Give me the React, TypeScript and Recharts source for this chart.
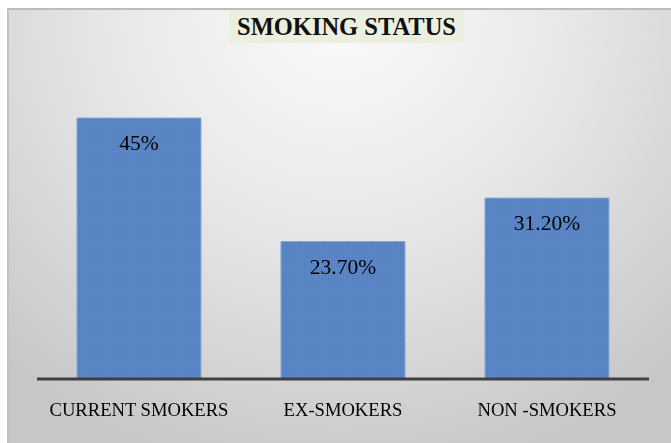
import { Bar, BarChart, XAxis, YAxis, LabelList } from "recharts"

const categories = ["CURRENT SMOKERS", "EX-SMOKERS", "NON -SMOKERS"]
const percents = [45, 23.7, 31.2]
const valueLabels = ["45%", "23.70%", "31.20%"]

const data = categories.map((name, i) => ({ name, value: percents[i], label: valueLabels[i] }))

const serif = "'Liberation Serif', 'Times New Roman', serif"

export default function App() {
  return (
    <div
      style={{
        position: "fixed",
        left: 7,
        top: 8,
        width: 664,
        height: 435,
        boxSizing: "border-box",
        borderTop: "2px solid #bcbcbc",
        borderLeft: "2px solid #c2c2c2",
        background: "radial-gradient(ellipse 75% 110% at 50% 0%, #fbfbfb 0%, #e8e8e8 45%, #c7c7c7 100%)",
        fontFamily: serif,
      }}
    >
      <div
        style={{
          position: "absolute",
          left: 220,
          top: 0,
          width: 235,
          height: 33,
          background: "#ebefdf",
          fontWeight: "bold",
          fontSize: 24.5,
          lineHeight: "34px",
          textAlign: "center",
          color: "#111",
        }}
      >
        SMOKING STATUS
      </div>
      <div style={{ position: "absolute", left: -2, top: -2 }}>
        <BarChart
          width={664}
          height={435}
          data={data}
          margin={{ top: 81, right: 22, bottom: 24, left: 30 }}
          barCategoryGap="19.6%"
        >
          <defs>
            <pattern id="barTex" width="3" height="3" patternUnits="userSpaceOnUse">
              <rect width="3" height="3" fill="#5a86c5" />
              <rect width="1" height="1" fill="#4d79ba" />
            </pattern>
          </defs>
          <YAxis hide domain={[0, 50]} />
          <XAxis
            dataKey="name"
            axisLine={{ stroke: "#404040", strokeWidth: 3 }}
            tickLine={false}
            tickSize={0}
            tickMargin={24}
            height={40}
            interval={0}
            tick={{ fill: "#000", fontSize: 18.6, fontFamily: serif }}
          />
          <Bar dataKey="value" fill="url(#barTex)" stroke="#86a9dc" strokeWidth={1} isAnimationActive={false}>
            <LabelList
              dataKey="label"
              position="insideTop"
              offset={17}
              style={{ fill: "#000", fontSize: 21.5, fontFamily: serif }}
            />
          </Bar>
        </BarChart>
      </div>
    </div>
  )
}
